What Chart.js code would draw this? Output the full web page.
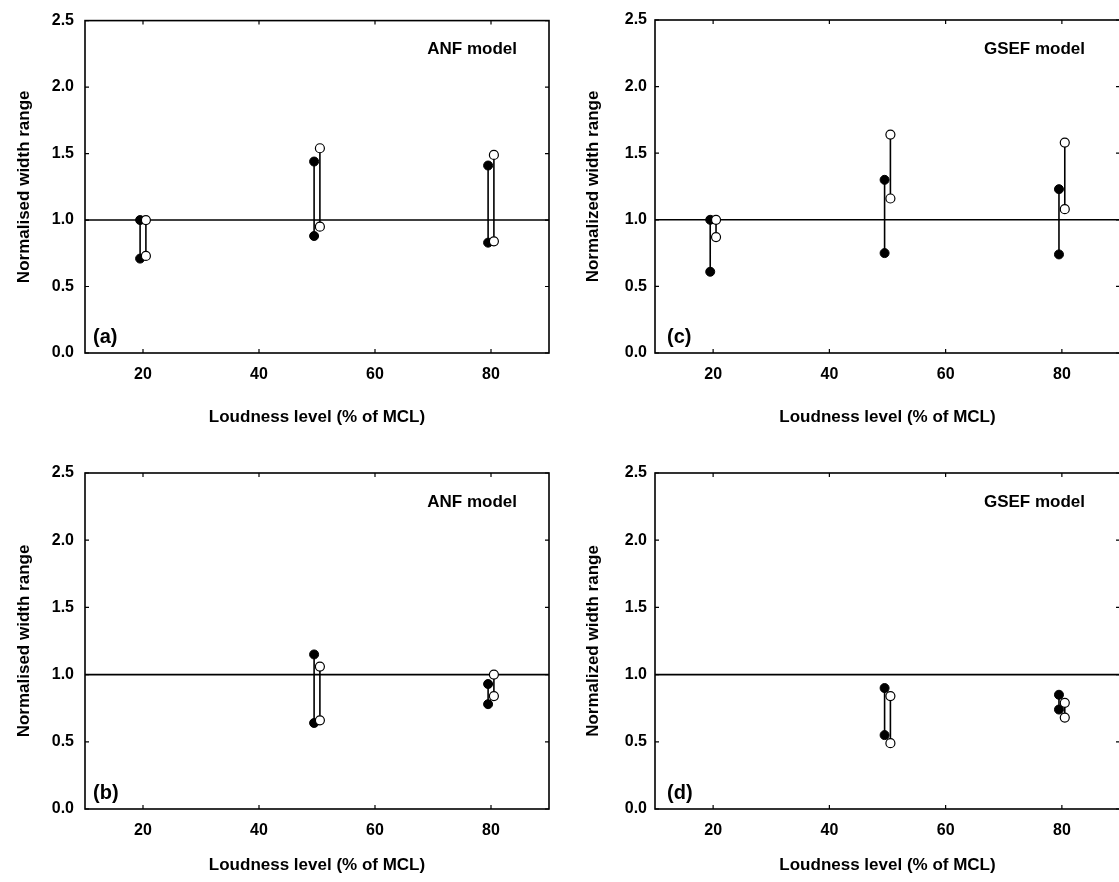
<!DOCTYPE html>
<html>
<head>
<meta charset="utf-8">
<script src="https://cdn.jsdelivr.net/npm/chart.js@4.4.1/dist/chart.umd.min.js"></script>
<style>
html,body{margin:0;padding:0;background:#fff;overflow:hidden;width:1119px;height:882px;}
canvas{position:absolute;display:block;}
</style>
</head>
<body>
<canvas id="pa" width="560" height="440" style="left:0;top:0"></canvas>
<canvas id="pc" width="580" height="440" style="left:560px;top:0"></canvas>
<canvas id="pb" width="560" height="442" style="left:0;top:440px"></canvas>
<canvas id="pd" width="580" height="442" style="left:560px;top:440px"></canvas>
<script>
// ---------------- data ----------------
const levels = [20, 50, 80];
const xTickValues = [20, 40, 60, 80];
const yTickValues = [0, 0.5, 1.0, 1.5, 2.0, 2.5];
const referenceLevel = 1.0;

// (a) ANF model, normalised
const aFilledLow  = [0.71, 0.88, 0.83];
const aFilledHigh = [1.00, 1.44, 1.41];
const aOpenLow    = [0.73, 0.95, 0.84];
const aOpenHigh   = [1.00, 1.54, 1.49];
// (c) GSEF model, normalized
const cFilledLow  = [0.61, 0.75, 0.74];
const cFilledHigh = [1.00, 1.30, 1.23];
const cOpenLow    = [0.87, 1.16, 1.08];
const cOpenHigh   = [1.00, 1.64, 1.58];
// (b) ANF model
const bFilledLow  = [null, 0.64, 0.78];
const bFilledHigh = [null, 1.15, 0.93];
const bOpenLow    = [null, 0.66, 0.84];
const bOpenHigh   = [null, 1.06, 1.00];
// (d) GSEF model
const dFilledLow  = [null, 0.55, 0.74];
const dFilledHigh = [null, 0.90, 0.85];
const dOpenLow    = [null, 0.49, 0.68];
const dOpenHigh   = [null, 0.84, 0.79];

// ---------------- styling ----------------
const FONT = '"Liberation Sans", Arial, sans-serif';
const X_OFFSET = 0.5; // horizontal separation of the two series around each level

function segments(lows, highs, dx) {
  const out = [];
  levels.forEach((lv, i) => {
    if (lows[i] == null || highs[i] == null) return;
    out.push({x: lv + dx, y: lows[i]});
    out.push({x: lv + dx, y: highs[i]});
    out.push({x: lv + dx, y: null});
  });
  return out;
}

const framePlugin = {
  id: 'frame',
  beforeDatasetsDraw(chart, args, opts) {
    const {ctx, chartArea: a} = chart;
    const xs = chart.scales.x, ys = chart.scales.y;
    ctx.save();
    ctx.strokeStyle = '#000';
    ctx.lineWidth = 1.6;
    ctx.strokeRect(a.left, a.top, a.right - a.left, a.bottom - a.top);
    const L = 4;
    ctx.lineWidth = 1.2;
    ctx.beginPath();
    xTickValues.forEach(v => {
      const px = xs.getPixelForValue(v);
      ctx.moveTo(px, a.bottom); ctx.lineTo(px, a.bottom - L);
      ctx.moveTo(px, a.top); ctx.lineTo(px, a.top + L);
    });
    yTickValues.forEach(v => {
      const py = ys.getPixelForValue(v);
      ctx.moveTo(a.left, py); ctx.lineTo(a.left + L, py);
      ctx.moveTo(a.right, py); ctx.lineTo(a.right - L, py);
    });
    ctx.stroke();
    ctx.fillStyle = '#000';
    ctx.textBaseline = 'middle';
    ctx.font = 'bold 20px ' + FONT;
    ctx.textAlign = 'left';
    ctx.fillText(opts.panel, a.left + opts.panelDx, a.bottom - 16);
    ctx.font = 'bold 17px ' + FONT;
    ctx.textAlign = 'right';
    ctx.fillText(opts.model, a.right - opts.modelDx, a.top + 29);
    ctx.restore();
  }
};

function makeChart(id, g, yTitle, panel, model, fLow, fHigh, oLow, oHigh) {
  const ctx = document.getElementById(id).getContext('2d');
  return new Chart(ctx, {
    type: 'line',
    data: {
      datasets: [
        {
          data: [{x: 10, y: referenceLevel}, {x: 90, y: referenceLevel}],
          borderColor: '#000', borderWidth: 1.6, pointRadius: 0, order: 3
        },
        {
          data: segments(fLow, fHigh, -X_OFFSET),
          borderColor: '#000', borderWidth: 1.6, spanGaps: false,
          pointRadius: 4.5, pointBackgroundColor: '#000', pointBorderColor: '#000', pointBorderWidth: 1,
          order: 2
        },
        {
          data: segments(oLow, oHigh, X_OFFSET),
          borderColor: '#000', borderWidth: 1.6, spanGaps: false,
          pointRadius: 4.5, pointBackgroundColor: '#fff', pointBorderColor: '#000', pointBorderWidth: 1.2,
          order: 1
        }
      ]
    },
    options: {
      responsive: false,
      animation: false,
      events: [],
      layout: {padding: {left: g.pl, right: g.pr, top: g.pt, bottom: g.pb}},
      plugins: {
        legend: {display: false},
        tooltip: {enabled: false},
        frame: {panel: panel, model: model, panelDx: g.panelDx, modelDx: g.modelDx}
      },
      scales: {
        x: {
          type: 'linear', min: 10, max: 90,
          afterBuildTicks: s => { s.ticks = xTickValues.map(v => ({value: v})); },
          afterFit: s => { s.height = g.xH; },
          grid: {display: false, drawTicks: false},
          border: {display: false},
          ticks: {color: '#000', padding: g.xTickPad, maxRotation: 0, autoSkip: false,
                  font: {family: FONT, size: 16, weight: 'bold'}},
          title: {display: true, text: 'Loudness level (% of MCL)', color: '#000', padding: 0,
                  font: {family: FONT, size: 17, weight: 'bold'}}
        },
        y: {
          type: 'linear', min: 0, max: 2.5,
          afterBuildTicks: s => { s.ticks = yTickValues.map(v => ({value: v})); },
          afterFit: s => { s.width = g.yW; },
          grid: {display: false, drawTicks: false},
          border: {display: false},
          ticks: {color: '#000', padding: g.yTickPad, autoSkip: false,
                  callback: v => Number(v).toFixed(1),
                  font: {family: FONT, size: 16, weight: 'bold'}},
          title: {display: true, text: yTitle, color: '#000', padding: 0,
                  font: {family: FONT, size: 17, weight: 'bold'}}
        }
      }
    },
    plugins: [framePlugin]
  });
}

const geomA = {pl: 14, pr: 11, pt: 20, pb: 12, yW: 71, xH: 75, xTickPad: 12, yTickPad: 11, panelDx: 8, modelDx: 32};
const geomC = {pl: 23, pr: 20, pt: 20, pb: 12, yW: 72, xH: 75, xTickPad: 12, yTickPad: 8, panelDx: 12, modelDx: 35};
const geomB = {pl: 14, pr: 11, pt: 33, pb: 6, yW: 71, xH: 67, xTickPad: 12, yTickPad: 11, panelDx: 8, modelDx: 32};
const geomD = {pl: 23, pr: 20, pt: 33, pb: 6, yW: 72, xH: 67, xTickPad: 12, yTickPad: 8, panelDx: 12, modelDx: 35};

makeChart('pa', geomA, 'Normalised width range', '(a)', 'ANF model', aFilledLow, aFilledHigh, aOpenLow, aOpenHigh);
makeChart('pc', geomC, 'Normalized width range', '(c)', 'GSEF model', cFilledLow, cFilledHigh, cOpenLow, cOpenHigh);
makeChart('pb', geomB, 'Normalised width range', '(b)', 'ANF model', bFilledLow, bFilledHigh, bOpenLow, bOpenHigh);
makeChart('pd', geomD, 'Normalized width range', '(d)', 'GSEF model', dFilledLow, dFilledHigh, dOpenLow, dOpenHigh);
</script>
</body>
</html>
